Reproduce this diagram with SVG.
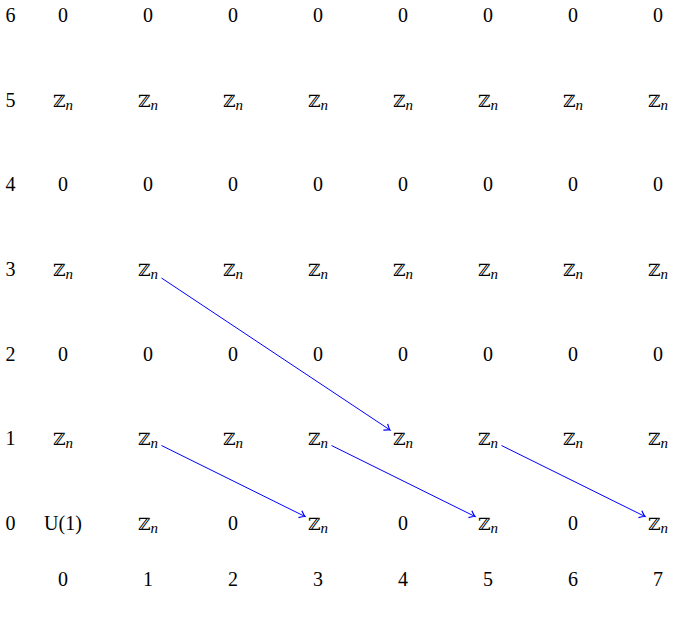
<svg xmlns="http://www.w3.org/2000/svg" width="676" height="625" viewBox="0 0 676 625">
<style>
text{font-family:"Liberation Serif","DejaVu Serif",serif;font-size:20px;fill:#000;text-anchor:middle}
.z{font-family:"DejaVu Serif","DejaVu Sans",serif;font-size:17px}
.s{font-family:"Liberation Serif",serif;font-style:italic;font-size:15px}
.ar{stroke:#0000ff;stroke-width:1;fill:none}
</style>
<defs>
<marker id="ah" markerUnits="userSpaceOnUse" markerWidth="12" markerHeight="12" refX="0" refY="0" viewBox="-6 -5 8 10" orient="auto">
<path d="M-4.5,-3.2 Q-1.5,-0.6 0,0 Q-1.5,0.6 -4.5,3.2" stroke="#0000ff" stroke-width="1" fill="none"/>
</marker>
<text id="Z" class="z">ℤ<tspan class="s" dy="3">n</tspan></text>
</defs>
<rect width="676" height="625" fill="#fff"/>
<g id="row-labels">
<text x="10.5" y="22">6</text><text x="10.5" y="107">5</text><text x="10.5" y="191">4</text><text x="10.5" y="276">3</text><text x="10.5" y="361">2</text><text x="10.5" y="445">1</text><text x="10.5" y="530">0</text>
</g>
<g id="col-labels">
<text x="63" y="586">0</text><text x="148" y="586">1</text><text x="233" y="586">2</text><text x="318" y="586">3</text><text x="403" y="586">4</text><text x="488" y="586">5</text><text x="573" y="586">6</text><text x="658" y="586">7</text>
</g>
<g id="row6">
<g id="n0-6"><text x="63" y="22">0</text></g><g id="n1-6"><text x="148" y="22">0</text></g><g id="n2-6"><text x="233" y="22">0</text></g><g id="n3-6"><text x="318" y="22">0</text></g><g id="n4-6"><text x="403" y="22">0</text></g><g id="n5-6"><text x="488" y="22">0</text></g><g id="n6-6"><text x="573" y="22">0</text></g><g id="n7-6"><text x="658" y="22">0</text></g>
</g>
<g id="row5">
<g id="n0-5"><text class="z" x="63" y="107">ℤ<tspan class="s" dy="3">n</tspan></text></g><g id="n1-5"><text class="z" x="148" y="107">ℤ<tspan class="s" dy="3">n</tspan></text></g><g id="n2-5"><text class="z" x="233" y="107">ℤ<tspan class="s" dy="3">n</tspan></text></g><g id="n3-5"><text class="z" x="318" y="107">ℤ<tspan class="s" dy="3">n</tspan></text></g><g id="n4-5"><text class="z" x="403" y="107">ℤ<tspan class="s" dy="3">n</tspan></text></g><g id="n5-5"><text class="z" x="488" y="107">ℤ<tspan class="s" dy="3">n</tspan></text></g><g id="n6-5"><text class="z" x="573" y="107">ℤ<tspan class="s" dy="3">n</tspan></text></g><g id="n7-5"><text class="z" x="658" y="107">ℤ<tspan class="s" dy="3">n</tspan></text></g>
</g>
<g id="row4">
<g id="n0-4"><text x="63" y="191">0</text></g><g id="n1-4"><text x="148" y="191">0</text></g><g id="n2-4"><text x="233" y="191">0</text></g><g id="n3-4"><text x="318" y="191">0</text></g><g id="n4-4"><text x="403" y="191">0</text></g><g id="n5-4"><text x="488" y="191">0</text></g><g id="n6-4"><text x="573" y="191">0</text></g><g id="n7-4"><text x="658" y="191">0</text></g>
</g>
<g id="row3">
<g id="n0-3"><text class="z" x="63" y="276">ℤ<tspan class="s" dy="3">n</tspan></text></g><g id="n1-3"><text class="z" x="148" y="276">ℤ<tspan class="s" dy="3">n</tspan></text></g><g id="n2-3"><text class="z" x="233" y="276">ℤ<tspan class="s" dy="3">n</tspan></text></g><g id="n3-3"><text class="z" x="318" y="276">ℤ<tspan class="s" dy="3">n</tspan></text></g><g id="n4-3"><text class="z" x="403" y="276">ℤ<tspan class="s" dy="3">n</tspan></text></g><g id="n5-3"><text class="z" x="488" y="276">ℤ<tspan class="s" dy="3">n</tspan></text></g><g id="n6-3"><text class="z" x="573" y="276">ℤ<tspan class="s" dy="3">n</tspan></text></g><g id="n7-3"><text class="z" x="658" y="276">ℤ<tspan class="s" dy="3">n</tspan></text></g>
</g>
<g id="row2">
<g id="n0-2"><text x="63" y="361">0</text></g><g id="n1-2"><text x="148" y="361">0</text></g><g id="n2-2"><text x="233" y="361">0</text></g><g id="n3-2"><text x="318" y="361">0</text></g><g id="n4-2"><text x="403" y="361">0</text></g><g id="n5-2"><text x="488" y="361">0</text></g><g id="n6-2"><text x="573" y="361">0</text></g><g id="n7-2"><text x="658" y="361">0</text></g>
</g>
<g id="row1">
<g id="n0-1"><text class="z" x="63" y="445">ℤ<tspan class="s" dy="3">n</tspan></text></g><g id="n1-1"><text class="z" x="148" y="445">ℤ<tspan class="s" dy="3">n</tspan></text></g><g id="n2-1"><text class="z" x="233" y="445">ℤ<tspan class="s" dy="3">n</tspan></text></g><g id="n3-1"><text class="z" x="318" y="445">ℤ<tspan class="s" dy="3">n</tspan></text></g><g id="n4-1"><text class="z" x="403" y="445">ℤ<tspan class="s" dy="3">n</tspan></text></g><g id="n5-1"><text class="z" x="488" y="445">ℤ<tspan class="s" dy="3">n</tspan></text></g><g id="n6-1"><text class="z" x="573" y="445">ℤ<tspan class="s" dy="3">n</tspan></text></g><g id="n7-1"><text class="z" x="658" y="445">ℤ<tspan class="s" dy="3">n</tspan></text></g>
</g>
<g id="row0">
<g id="n0-0"><text x="63" y="530">U(1)</text></g><g id="n1-0"><text class="z" x="148" y="530">ℤ<tspan class="s" dy="3">n</tspan></text></g><g id="n2-0"><text x="233" y="530">0</text></g><g id="n3-0"><text class="z" x="318" y="530">ℤ<tspan class="s" dy="3">n</tspan></text></g><g id="n4-0"><text x="403" y="530">0</text></g><g id="n5-0"><text class="z" x="488" y="530">ℤ<tspan class="s" dy="3">n</tspan></text></g><g id="n6-0"><text x="573" y="530">0</text></g><g id="n7-0"><text class="z" x="658" y="530">ℤ<tspan class="s" dy="3">n</tspan></text></g>
</g>
<g id="connectors" class="ar">
<line x1="161.5" y1="278" x2="390" y2="430" marker-end="url(#ah)"/>
<line x1="161.5" y1="445.5" x2="305" y2="516.5" marker-end="url(#ah)"/>
<line x1="331.5" y1="445.5" x2="475" y2="516.5" marker-end="url(#ah)"/>
<line x1="501.5" y1="445.5" x2="645" y2="516.5" marker-end="url(#ah)"/>
</g>
</svg>
